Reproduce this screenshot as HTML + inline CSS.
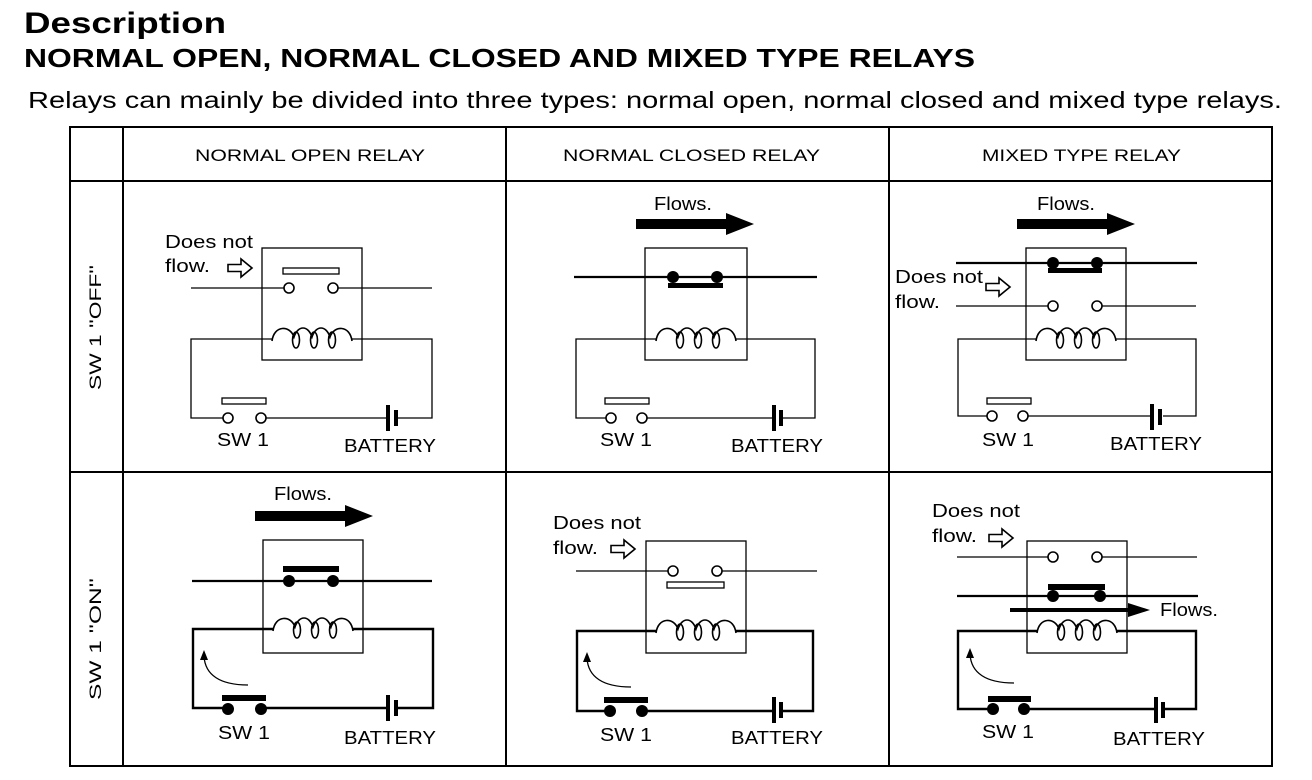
<!DOCTYPE html>
<html><head><meta charset="utf-8"><style>
html,body{margin:0;padding:0;background:#fff;}
svg{display:block;}
text{font-family:"Liberation Sans",Arial,sans-serif;fill:#000;}
</style></head><body>
<svg width="1312" height="780" viewBox="0 0 1312 780" xmlns="http://www.w3.org/2000/svg">
<defs>
<g id="coil" fill="none" stroke="#000" stroke-width="1.6">
<path d="M0,2 C2,-14 18,-14 22,-2 C26,-14 36,-14 40,-2 C44,-14 54,-14 58,-2 C62,-14 78,-14 80,2"/>
<ellipse cx="24" cy="1" rx="3.5" ry="8"/><ellipse cx="42" cy="1" rx="3.5" ry="8"/><ellipse cx="60" cy="1" rx="3.5" ry="8"/>
</g>
<g id="hollowArrow"><path d="M0,-3.5 L13,-3.5 L13,-9 L24,0 L13,9 L13,3.5 L0,3.5 Z" fill="#fff" stroke="#000" stroke-width="1.6"/></g>
<g id="bigArrow"><path d="M0,-5 L90,-5 L90,-11 L118,0 L90,11 L90,5 L0,5 Z" fill="#000"/></g>
</defs>

<text x="24" y="33" font-size="30" font-weight="bold" textLength="202" lengthAdjust="spacingAndGlyphs">Description</text>
<text x="24" y="67" font-size="26" font-weight="bold" textLength="951" lengthAdjust="spacingAndGlyphs">NORMAL OPEN, NORMAL CLOSED AND MIXED TYPE RELAYS</text>
<text x="28" y="108" font-size="23" textLength="1254" lengthAdjust="spacingAndGlyphs">Relays can mainly be divided into three types: normal open, normal closed and mixed type relays.</text>

<g stroke="#000" stroke-width="2" fill="none">
<rect x="70" y="127" width="1202" height="639"/>
<line x1="123" y1="127" x2="123" y2="766"/>
<line x1="506" y1="127" x2="506" y2="766"/>
<line x1="889" y1="127" x2="889" y2="766"/>
<line x1="70" y1="181" x2="1272" y2="181"/>
<line x1="70" y1="472" x2="1272" y2="472"/>
</g>
<g font-size="17">
<text x="195" y="161" textLength="230" lengthAdjust="spacingAndGlyphs">NORMAL OPEN RELAY</text>
<text x="563" y="161" textLength="257" lengthAdjust="spacingAndGlyphs">NORMAL CLOSED RELAY</text>
<text x="982" y="161" textLength="199" lengthAdjust="spacingAndGlyphs">MIXED TYPE RELAY</text>
</g>
<text font-size="17" transform="translate(101,390) rotate(-90)" textLength="125" lengthAdjust="spacingAndGlyphs">SW 1 ''OFF''</text>
<text font-size="17" transform="translate(101,700) rotate(-90)" textLength="122" lengthAdjust="spacingAndGlyphs">SW 1 ''ON''</text>

<g font-size="18">
<!-- CELL 1 NO OFF -->
<g stroke="#000" fill="none" stroke-width="1.3">
<rect x="262" y="248" width="100" height="112"/>
<line x1="191" y1="288" x2="284" y2="288"/><line x1="338" y1="288" x2="432" y2="288"/>
<rect x="283" y="268" width="56" height="6"/>
<circle cx="289" cy="288" r="5" fill="#fff" stroke-width="1.6"/><circle cx="333" cy="288" r="5" fill="#fff" stroke-width="1.6"/>
<polyline points="272,339 191,339 191,418 223,418"/><polyline points="352,339 432,339 432,418 398,418"/>
<line x1="266" y1="418" x2="386" y2="418"/>
<rect x="222" y="398" width="44" height="6"/>
<circle cx="228" cy="418" r="5" fill="#fff" stroke-width="1.6"/><circle cx="261" cy="418" r="5" fill="#fff" stroke-width="1.6"/>
</g>
<rect x="386" y="405" width="4" height="26"/><rect x="394" y="410" width="4" height="16"/>
<use href="#coil" x="272" y="339"/>
<text x="165" y="248" textLength="88" lengthAdjust="spacingAndGlyphs">Does not</text><text x="165" y="272" textLength="45" lengthAdjust="spacingAndGlyphs">flow.</text>
<use href="#hollowArrow" x="228" y="268"/>
<text x="217" y="446" textLength="52" lengthAdjust="spacingAndGlyphs">SW 1</text><text x="344" y="452" textLength="92" lengthAdjust="spacingAndGlyphs">BATTERY</text>

<!-- CELL 2 NC OFF -->
<g stroke="#000" fill="none" stroke-width="1.3">
<rect x="645" y="248" width="102" height="112"/>
<line x1="574" y1="277" x2="817" y2="277" stroke-width="2.2"/>
<polyline points="656,339 576,339 576,418 606,418"/><polyline points="736,339 815,339 815,418 781,418"/>
<line x1="647" y1="418" x2="772" y2="418"/>
<rect x="605" y="398" width="44" height="6"/>
<circle cx="611" cy="418" r="5" fill="#fff" stroke-width="1.6"/><circle cx="642" cy="418" r="5" fill="#fff" stroke-width="1.6"/>
</g>
<circle cx="673" cy="277" r="6"/><circle cx="717" cy="277" r="6"/>
<rect x="668" y="283" width="55" height="5"/>
<rect x="772" y="405" width="4" height="26"/><rect x="779" y="410" width="4" height="16"/>
<use href="#coil" x="656" y="339"/>
<text x="654" y="210" textLength="58" lengthAdjust="spacingAndGlyphs">Flows.</text>
<use href="#bigArrow" x="636" y="224"/>
<text x="600" y="446" textLength="52" lengthAdjust="spacingAndGlyphs">SW 1</text><text x="731" y="452" textLength="92" lengthAdjust="spacingAndGlyphs">BATTERY</text>

<!-- CELL 3 MIXED OFF -->
<g stroke="#000" fill="none" stroke-width="1.3">
<rect x="1026" y="248" width="100" height="112"/>
<line x1="956" y1="263" x2="1197" y2="263" stroke-width="2.2"/>
<line x1="956" y1="306" x2="1048" y2="306"/><line x1="1102" y1="306" x2="1196" y2="306"/>
<circle cx="1053" cy="306" r="5" fill="#fff" stroke-width="1.6"/><circle cx="1097" cy="306" r="5" fill="#fff" stroke-width="1.6"/>
<polyline points="1036,339 958,339 958,416 987,416"/><polyline points="1116,339 1196,339 1196,416 1163,416"/>
<line x1="1028" y1="416" x2="1150" y2="416"/>
<rect x="987" y="398" width="44" height="6"/>
<circle cx="992" cy="416" r="5" fill="#fff" stroke-width="1.6"/><circle cx="1023" cy="416" r="5" fill="#fff" stroke-width="1.6"/>
</g>
<circle cx="1053" cy="263" r="6"/><circle cx="1097" cy="263" r="6"/>
<rect x="1048" y="268" width="54" height="5"/>
<rect x="1150" y="404" width="4" height="26"/><rect x="1158" y="409" width="4" height="16"/>
<use href="#coil" x="1036" y="339"/>
<text x="1037" y="210" textLength="58" lengthAdjust="spacingAndGlyphs">Flows.</text>
<use href="#bigArrow" x="1017" y="224"/>
<text x="895" y="283" textLength="88" lengthAdjust="spacingAndGlyphs">Does not</text><text x="895" y="308" textLength="45" lengthAdjust="spacingAndGlyphs">flow.</text>
<use href="#hollowArrow" x="986" y="287"/>
<text x="982" y="446" textLength="52" lengthAdjust="spacingAndGlyphs">SW 1</text><text x="1110" y="450" textLength="92" lengthAdjust="spacingAndGlyphs">BATTERY</text>

<!-- CELL 4 NO ON -->
<g stroke="#000" fill="none" stroke-width="1.3">
<rect x="263" y="540" width="100" height="113"/>
<line x1="192" y1="581" x2="432" y2="581" stroke-width="2.2"/>
<g stroke-width="2.4"><polyline points="273,629 193,629 193,708 228,708"/><polyline points="353,629 433,629 433,708 398,708"/>
<line x1="261" y1="708" x2="386" y2="708"/></g>
<path d="M248,685 C220,685 205,675 204,656"/>
</g>
<path d="M200,660 L204,650 L208,660 Z"/>
<circle cx="289" cy="581" r="6"/><circle cx="333" cy="581" r="6"/>
<rect x="283" y="566" width="56" height="6"/>
<rect x="222" y="695" width="44" height="6"/>
<circle cx="228" cy="709" r="6"/><circle cx="261" cy="709" r="6"/>
<rect x="386" y="695" width="4" height="26"/><rect x="394" y="700" width="4" height="16"/>
<use href="#coil" x="273" y="629"/>
<text x="274" y="500" textLength="58" lengthAdjust="spacingAndGlyphs">Flows.</text>
<use href="#bigArrow" x="255" y="516"/>
<text x="218" y="739" textLength="52" lengthAdjust="spacingAndGlyphs">SW 1</text><text x="344" y="744" textLength="92" lengthAdjust="spacingAndGlyphs">BATTERY</text>

<!-- CELL 5 NC ON -->
<g stroke="#000" fill="none" stroke-width="1.3">
<rect x="646" y="541" width="100" height="112"/>
<line x1="576" y1="571" x2="668" y2="571"/><line x1="722" y1="571" x2="817" y2="571"/>
<circle cx="673" cy="571" r="5" fill="#fff" stroke-width="1.6"/><circle cx="717" cy="571" r="5" fill="#fff" stroke-width="1.6"/>
<rect x="667" y="582" width="57" height="6"/>
<g stroke-width="2.4"><polyline points="656,631 577,631 577,711 610,711"/><polyline points="736,631 813,631 813,711 782,711"/>
<line x1="642" y1="711" x2="772" y2="711"/></g>
<path d="M631,687 C603,687 588,677 587,658"/>
</g>
<path d="M583,662 L587,652 L591,662 Z"/>
<rect x="604" y="697" width="44" height="6"/>
<circle cx="610" cy="711" r="6"/><circle cx="642" cy="711" r="6"/>
<rect x="772" y="697" width="4" height="26"/><rect x="779" y="702" width="4" height="16"/>
<use href="#coil" x="656" y="631"/>
<text x="553" y="529" textLength="88" lengthAdjust="spacingAndGlyphs">Does not</text><text x="553" y="554" textLength="45" lengthAdjust="spacingAndGlyphs">flow.</text>
<use href="#hollowArrow" x="611" y="549"/>
<text x="600" y="741" textLength="52" lengthAdjust="spacingAndGlyphs">SW 1</text><text x="731" y="744" textLength="92" lengthAdjust="spacingAndGlyphs">BATTERY</text>

<!-- CELL 6 MIXED ON -->
<g stroke="#000" fill="none" stroke-width="1.3">
<rect x="1027" y="541" width="100" height="112"/>
<line x1="957" y1="557" x2="1048" y2="557"/><line x1="1102" y1="557" x2="1197" y2="557"/>
<circle cx="1053" cy="557" r="5" fill="#fff" stroke-width="1.6"/><circle cx="1097" cy="557" r="5" fill="#fff" stroke-width="1.6"/>
<line x1="957" y1="596" x2="1198" y2="596" stroke-width="2.2"/>
<g stroke-width="2.4"><polyline points="1037,631 958,631 958,709 993,709"/><polyline points="1117,631 1196,631 1196,709 1163,709"/>
<line x1="1024" y1="709" x2="1154" y2="709"/></g>
<path d="M1014,683 C986,683 971,673 970,654"/>
</g>
<path d="M966,658 L970,648 L974,658 Z"/>
<circle cx="1053" cy="596" r="6"/><circle cx="1100" cy="596" r="6"/>
<rect x="1048" y="584" width="57" height="6"/>
<rect x="1010" y="608" width="120" height="4"/><path d="M1128,603 L1150,610 L1128,617 Z"/>
<text x="1160" y="616" textLength="58" lengthAdjust="spacingAndGlyphs">Flows.</text>
<rect x="988" y="696" width="43" height="6"/>
<circle cx="993" cy="709" r="6"/><circle cx="1024" cy="709" r="6"/>
<rect x="1154" y="697" width="4" height="26"/><rect x="1161" y="702" width="4" height="16"/>
<use href="#coil" x="1037" y="631"/>
<text x="932" y="517" textLength="88" lengthAdjust="spacingAndGlyphs">Does not</text><text x="932" y="542" textLength="45" lengthAdjust="spacingAndGlyphs">flow.</text>
<use href="#hollowArrow" x="989" y="538"/>
<text x="982" y="738" textLength="52" lengthAdjust="spacingAndGlyphs">SW 1</text><text x="1113" y="745" textLength="92" lengthAdjust="spacingAndGlyphs">BATTERY</text>
</g>
</svg>
</body></html>
